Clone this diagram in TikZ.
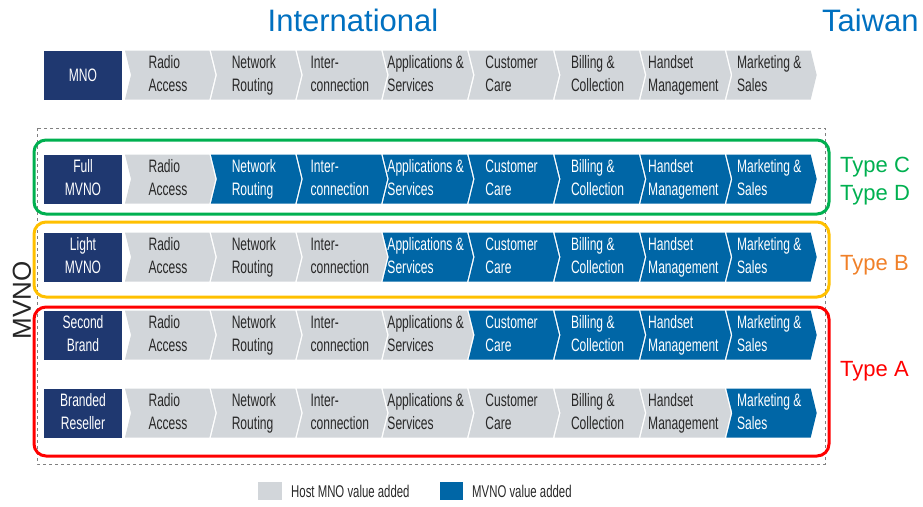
\documentclass[tikz,border=0pt]{standalone}
\usepackage{fontspec}
\setmainfont{Liberation Sans}
\newfontfamily\condfont[FakeStretch=0.67]{Liberation Sans}
\definecolor{navy}{RGB}{31,56,112}
\definecolor{mvnoblue}{RGB}{0,102,166}
\definecolor{hostgray}{RGB}{210,214,218}
\definecolor{txtgray}{RGB}{40,40,40}
\definecolor{titleblue}{RGB}{0,112,192}
\definecolor{typegreen}{RGB}{0,176,80}
\definecolor{typeorange}{RGB}{240,128,40}
\definecolor{boxorange}{RGB}{255,192,0}
\definecolor{typered}{RGB}{255,0,0}
\tikzset{
  labelbox/.style={fill=navy, text=white, minimum width=78pt, minimum height=49pt, inner sep=0pt,
    align=center, font=\condfont\fontsize{18}{23}\selectfont},
  chevtext/.style={align=left, inner sep=0pt, font=\condfont\fontsize{18}{23}\selectfont},
  typebox/.style={rounded corners=12pt, line width=3pt},
  typelabel/.style={anchor=west, inner sep=0pt, font=\fontsize{22}{26}\selectfont},
  titletext/.style={inner sep=0pt, text=titleblue, font=\fontsize{31}{36}\selectfont},
  legendtext/.style={anchor=west, inner sep=0pt, text=txtgray, font=\condfont\fontsize{17}{20}\selectfont}
}
\newcommand{\chevpath}[3]{%
  \fill[#3] (#1,#2-24.5) -- ++(84.4,0) -- ++(6,24.5) -- ++(-6,24.5) -- ++(-84.4,0) -- ++(6,-24.5) -- cycle;}
\newcommand{\twol}[2]{#1\strut\\#2\strut}
\begin{document}
\begin{tikzpicture}[x=1pt,y=-1pt]
\useasboundingbox (0,0) rectangle (923,506);
% titles
\node[titletext] (intl) at (353,20) {International};
\node[titletext, anchor=west] (taiwan) at (822,20) {Taiwan};
% group frames
\draw[gray, dashed, line width=0.9pt] (37,128) rectangle (825,464);
\node[rotate=90, inner sep=0pt, text=black!85, font=\fontsize{26}{30}\selectfont] (mvno) at (22,300) {MVNO};
% rows
\foreach \rn/\yc/\fb/\lab in {mno/75/9/{MNO}, full/179/2/{\twol{Full}{MVNO}}, light/257/4/{\twol{Light}{MVNO}}, second/335/5/{\twol{Second}{Brand}}, branded/413/8/{\twol{Branded}{Reseller}}}{
  \node[labelbox] (\rn) at (83,\yc) {\lab};
  \foreach \i/\txt in {1/{\twol{Radio}{Access}}, 2/{\twol{Network}{Routing}}, 3/{\twol{Inter-}{connection}}, 4/{\twol{Applications \&}{Services}}, 5/{\twol{Customer}{Care}}, 6/{\twol{Billing \&}{Collection}}, 7/{\twol{Handset}{Management}}, 8/{\twol{Marketing \&}{Sales}}}{
    \pgfmathsetmacro{\xo}{125+85.9*(\i-1)}
    \ifnum\i<\fb
      \chevpath{\xo}{\yc}{hostgray}
      \node[chevtext, text=txtgray] (\rn-\i) at (\xo+43,\yc) {\txt};
    \else
      \chevpath{\xo}{\yc}{mvnoblue}
      \node[chevtext, text=white] (\rn-\i) at (\xo+43,\yc) {\txt};
    \fi
  }
}
% type frames
\draw[typebox, typegreen] (34,140) rectangle (829,214);
\draw[typebox, boxorange] (34,222) rectangle (829,297);
\draw[typebox, typered] (34,307) rectangle (829,456);
\node[typelabel, text=typegreen] (typec) at (840,167) {Type C};
\node[typelabel, text=typegreen] (typed) at (840,195) {Type D};
\node[typelabel, text=typeorange] (typeb) at (840,265) {Type B};
\node[typelabel, text=typered] (typea) at (840,371) {Type A};
% legend
\node[fill=hostgray, minimum width=24pt, minimum height=18pt, inner sep=0pt] (lghost) at (270,491) {};
\node[legendtext] (lghosttxt) at (291,491) {Host MNO value added};
\node[fill=mvnoblue, minimum width=23pt, minimum height=18pt, inner sep=0pt] (lgmvno) at (451.5,491) {};
\node[legendtext] (lgmvnotxt) at (472,491) {MVNO value added};
\end{tikzpicture}
\end{document}
